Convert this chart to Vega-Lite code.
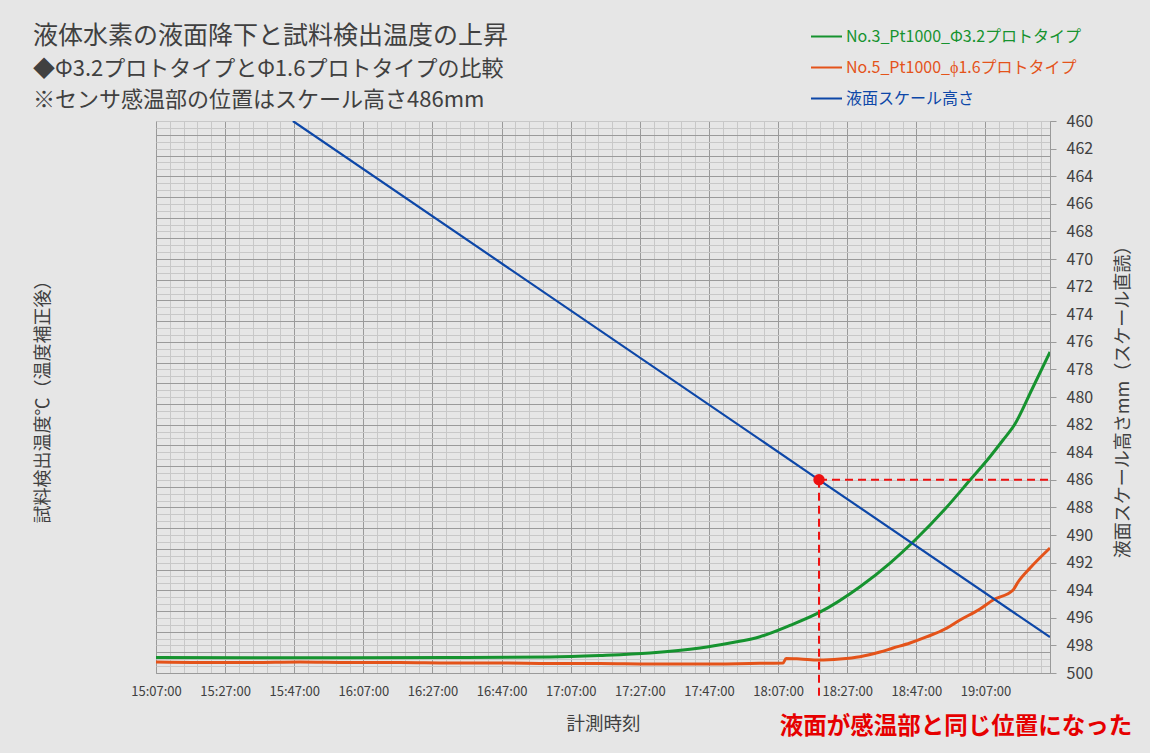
{
  "$schema": "https://vega.github.io/schema/vega-lite/v6.json",
  "width": 894,
  "height": 552,
  "autosize": {"type": "none"},
  "padding": {"left": 156, "top": 121, "right": 100, "bottom": 80},
  "background": "#e6e6e6",
  "config": {
    "font": "Noto Sans CJK JP",
    "view": {"stroke": "#a0a0a0", "fill": "#e6e6e6"},
    "axis": {
      "labelFont": "Noto Sans CJK JP",
      "titleFont": "Noto Sans CJK JP",
      "labelColor": "#404040",
      "titleColor": "#404040",
      "titleFontWeight": "normal"
    }
  },
  "title": {
    "text": "液体水素の液面降下と試料検出温度の上昇",
    "subtitle": ["◆Φ3.2プロトタイプとΦ1.6プロトタイプの比較", "※センサ感温部の位置はスケール高さ486mm"],
    "anchor": "start",
    "frame": "group",
    "dx": -123,
    "dy": 103,
    "offset": 12,
    "font": "Noto Sans CJK JP",
    "fontSize": 25,
    "fontWeight": "normal",
    "color": "#404040",
    "subtitleFont": "Noto Sans CJK JP",
    "subtitleFontSize": 22,
    "subtitleColor": "#404040",
    "subtitleLineHeight": 31,
    "subtitlePadding": 10
  },
  "encoding": {
    "x": {
      "field": "time",
      "type": "temporal",
      "scale": {"domain": [1577891220000, 1577906740000], "nice": false},
      "axis": {
        "values": [1577891220000, 1577891460000, 1577891700000, 1577891940000, 1577892180000, 1577892420000, 1577892660000, 1577892900000, 1577893140000, 1577893380000, 1577893620000, 1577893860000, 1577894100000, 1577894340000, 1577894580000, 1577894820000, 1577895060000, 1577895300000, 1577895540000, 1577895780000, 1577896020000, 1577896260000, 1577896500000, 1577896740000, 1577896980000, 1577897220000, 1577897460000, 1577897700000, 1577897940000, 1577898180000, 1577898420000, 1577898660000, 1577898900000, 1577899140000, 1577899380000, 1577899620000, 1577899860000, 1577900100000, 1577900340000, 1577900580000, 1577900820000, 1577901060000, 1577901300000, 1577901540000, 1577901780000, 1577902020000, 1577902260000, 1577902500000, 1577902740000, 1577902980000, 1577903220000, 1577903460000, 1577903700000, 1577903940000, 1577904180000, 1577904420000, 1577904660000, 1577904900000, 1577905140000, 1577905380000, 1577905620000, 1577905860000, 1577906100000, 1577906340000, 1577906580000],
        "labelExpr": "utcminutes(datum.value) % 20 === 7 ? utcFormat(datum.value, '%H:%M:%S') : ''",
        "labelOverlap": false,
        "labelFlush": false,
        "labelFontSize": 13,
        "labelPadding": 12,
        "ticks": false,
        "domain": false,
        "grid": true,
        "gridColor": {"condition": {"test": "utcminutes(datum.value) % 20 === 7", "value": "#9a9a9a"}, "value": "#c8c8c8"},
        "title": "計測時刻",
        "titleFontSize": 18.5,
        "titlePadding": 16
      }
    }
  },
  "layer": [
    {
      "data": {
        "values": [
          {"time": "2020-01-01T15:07:00Z", "series": "No.3_Pt1000_Φ3.2プロトタイプ", "temp": -252.75},
          {"time": "2020-01-01T15:34:12Z", "series": "No.3_Pt1000_Φ3.2プロトタイプ", "temp": -252.8},
          {"time": "2020-01-01T16:03:08Z", "series": "No.3_Pt1000_Φ3.2プロトタイプ", "temp": -252.8},
          {"time": "2020-01-01T16:32:04Z", "series": "No.3_Pt1000_Φ3.2プロトタイプ", "temp": -252.77},
          {"time": "2020-01-01T17:01:00Z", "series": "No.3_Pt1000_Φ3.2プロトタイプ", "temp": -252.68},
          {"time": "2020-01-01T17:15:28Z", "series": "No.3_Pt1000_Φ3.2プロトタイプ", "temp": -252.46},
          {"time": "2020-01-01T17:29:56Z", "series": "No.3_Pt1000_Φ3.2プロトタイプ", "temp": -252.1},
          {"time": "2020-01-01T17:44:24Z", "series": "No.3_Pt1000_Φ3.2プロトタイプ", "temp": -251.38},
          {"time": "2020-01-01T17:53:05Z", "series": "No.3_Pt1000_Φ3.2プロトタイプ", "temp": -250.65},
          {"time": "2020-01-01T18:01:46Z", "series": "No.3_Pt1000_Φ3.2プロトタイプ", "temp": -249.74},
          {"time": "2020-01-01T18:10:26Z", "series": "No.3_Pt1000_Φ3.2プロトタイプ", "temp": -248.1},
          {"time": "2020-01-01T18:18:48Z", "series": "No.3_Pt1000_Φ3.2プロトタイプ", "temp": -246.26},
          {"time": "2020-01-01T18:30:42Z", "series": "No.3_Pt1000_Φ3.2プロトタイプ", "temp": -242.49},
          {"time": "2020-01-01T18:39:23Z", "series": "No.3_Pt1000_Φ3.2プロトタイプ", "temp": -239.06},
          {"time": "2020-01-01T18:46:38Z", "series": "No.3_Pt1000_Φ3.2プロトタイプ", "temp": -235.72},
          {"time": "2020-01-01T18:55:18Z", "series": "No.3_Pt1000_Φ3.2プロトタイプ", "temp": -231.23},
          {"time": "2020-01-01T19:02:32Z", "series": "No.3_Pt1000_Φ3.2プロトタイプ", "temp": -227.03},
          {"time": "2020-01-01T19:08:18Z", "series": "No.3_Pt1000_Φ3.2プロトタイプ", "temp": -223.65},
          {"time": "2020-01-01T19:12:05Z", "series": "No.3_Pt1000_Φ3.2プロトタイプ", "temp": -221.23},
          {"time": "2020-01-01T19:15:32Z", "series": "No.3_Pt1000_Φ3.2プロトタイプ", "temp": -218.91},
          {"time": "2020-01-01T19:20:30Z", "series": "No.3_Pt1000_Φ3.2プロトタイプ", "temp": -213.84},
          {"time": "2020-01-01T19:25:40Z", "series": "No.3_Pt1000_Φ3.2プロトタイプ", "temp": -208.48},
          {"time": "2020-01-01T15:07:00Z", "series": "No.5_Pt1000_ϕ1.6プロトタイプ", "temp": -253.41},
          {"time": "2020-01-01T15:19:44Z", "series": "No.5_Pt1000_ϕ1.6プロトタイプ", "temp": -253.48},
          {"time": "2020-01-01T15:34:12Z", "series": "No.5_Pt1000_ϕ1.6プロトタイプ", "temp": -253.48},
          {"time": "2020-01-01T15:48:40Z", "series": "No.5_Pt1000_ϕ1.6プロトタイプ", "temp": -253.41},
          {"time": "2020-01-01T16:03:08Z", "series": "No.5_Pt1000_ϕ1.6プロトタイプ", "temp": -253.48},
          {"time": "2020-01-01T16:17:36Z", "series": "No.5_Pt1000_ϕ1.6プロトタイプ", "temp": -253.48},
          {"time": "2020-01-01T16:32:04Z", "series": "No.5_Pt1000_ϕ1.6プロトタイプ", "temp": -253.55},
          {"time": "2020-01-01T16:46:32Z", "series": "No.5_Pt1000_ϕ1.6プロトタイプ", "temp": -253.55},
          {"time": "2020-01-01T17:01:00Z", "series": "No.5_Pt1000_ϕ1.6プロトタイプ", "temp": -253.62},
          {"time": "2020-01-01T17:15:28Z", "series": "No.5_Pt1000_ϕ1.6プロトタイプ", "temp": -253.62},
          {"time": "2020-01-01T17:29:56Z", "series": "No.5_Pt1000_ϕ1.6プロトタイプ", "temp": -253.7},
          {"time": "2020-01-01T17:44:24Z", "series": "No.5_Pt1000_ϕ1.6プロトタイプ", "temp": -253.7},
          {"time": "2020-01-01T17:58:53Z", "series": "No.5_Pt1000_ϕ1.6プロトタイプ", "temp": -253.62},
          {"time": "2020-01-01T18:08:26Z", "series": "No.5_Pt1000_ϕ1.6プロトタイプ", "temp": -253.55},
          {"time": "2020-01-01T18:09:18Z", "series": "No.5_Pt1000_ϕ1.6プロトタイプ", "temp": -252.9},
          {"time": "2020-01-01T18:13:20Z", "series": "No.5_Pt1000_ϕ1.6プロトタイプ", "temp": -252.97},
          {"time": "2020-01-01T18:18:48Z", "series": "No.5_Pt1000_ϕ1.6プロトタイプ", "temp": -253.12},
          {"time": "2020-01-01T18:24:55Z", "series": "No.5_Pt1000_ϕ1.6プロトタイプ", "temp": -252.97},
          {"time": "2020-01-01T18:30:42Z", "series": "No.5_Pt1000_ϕ1.6プロトタイプ", "temp": -252.64},
          {"time": "2020-01-01T18:36:29Z", "series": "No.5_Pt1000_ϕ1.6プロトタイプ", "temp": -251.96},
          {"time": "2020-01-01T18:40:15Z", "series": "No.5_Pt1000_ϕ1.6プロトタイプ", "temp": -251.38},
          {"time": "2020-01-01T18:45:10Z", "series": "No.5_Pt1000_ϕ1.6プロトタイプ", "temp": -250.65},
          {"time": "2020-01-01T18:50:05Z", "series": "No.5_Pt1000_ϕ1.6プロトタイプ", "temp": -249.74},
          {"time": "2020-01-01T18:55:18Z", "series": "No.5_Pt1000_ϕ1.6プロトタイプ", "temp": -248.62},
          {"time": "2020-01-01T18:59:38Z", "series": "No.5_Pt1000_ϕ1.6プロトタイプ", "temp": -247.32},
          {"time": "2020-01-01T19:05:25Z", "series": "No.5_Pt1000_ϕ1.6プロトタイプ", "temp": -245.72},
          {"time": "2020-01-01T19:09:11Z", "series": "No.5_Pt1000_ϕ1.6プロトタイプ", "temp": -244.42},
          {"time": "2020-01-01T19:15:00Z", "series": "No.5_Pt1000_ϕ1.6プロトタイプ", "temp": -242.97},
          {"time": "2020-01-01T19:16:26Z", "series": "No.5_Pt1000_ϕ1.6プロトタイプ", "temp": -241.81},
          {"time": "2020-01-01T19:19:54Z", "series": "No.5_Pt1000_ϕ1.6プロトタイプ", "temp": -239.78},
          {"time": "2020-01-01T19:25:40Z", "series": "No.5_Pt1000_ϕ1.6プロトタイプ", "temp": -236.88}
        ]
      },
      "mark": {"type": "line", "interpolate": "monotone", "strokeWidth": 3, "clip": true},
      "encoding": {
        "y": {
          "field": "temp",
          "type": "quantitative",
          "scale": {"domain": [-255, -175], "nice": false, "zero": false},
          "axis": {
            "orient": "left",
            "values": [-255, -254, -253, -252, -251, -250, -249, -248, -247, -246, -245, -244, -243, -242, -241, -240, -239, -238, -237, -236, -235, -234, -233, -232, -231, -230, -229, -228, -227, -226, -225, -224, -223, -222, -221, -220, -219, -218, -217, -216, -215, -214, -213, -212, -211, -210, -209, -208, -207, -206, -205, -204, -203, -202, -201, -200, -199, -198, -197, -196, -195, -194, -193, -192, -191, -190, -189, -188, -187, -186, -185, -184, -183, -182, -181, -180, -179, -178, -177, -176, -175],
            "labels": false,
            "ticks": false,
            "domain": false,
            "grid": true,
            "gridColor": {"condition": {"test": "(datum.value + 255) % 3 === 0", "value": "#9a9a9a"}, "value": "#c8c8c8"},
            "title": "試料検出温度℃（温度補正後）",
            "titleFontSize": 18,
            "titlePadding": 104
          }
        },
        "color": {
          "field": "series",
          "type": "nominal",
          "scale": {
            "domain": ["No.3_Pt1000_Φ3.2プロトタイプ", "No.5_Pt1000_ϕ1.6プロトタイプ", "液面スケール高さ"],
            "range": ["#16932f", "#e4531a", "#0d47a8"]
          },
          "legend": {
            "title": null,
            "orient": "none",
            "legendX": 654,
            "legendY": -101,
            "padding": 0,
            "symbolType": "stroke",
            "symbolSize": 960,
            "symbolStrokeWidth": 2,
            "labelFont": "Noto Sans CJK JP",
            "labelFontSize": 16,
            "labelOffset": 3,
            "labelLimit": 400,
            "rowPadding": 6,
            "encode": {"labels": {"update": {"fill": {"signal": "scale('color', datum.value)"}}}}
          }
        }
      }
    },
    {
      "encoding": {
        "y": {
          "field": "level",
          "type": "quantitative",
          "scale": {"domain": [460, 500], "reverse": true, "nice": false, "zero": false},
          "axis": {
            "orient": "right",
            "values": [460, 462, 464, 466, 468, 470, 472, 474, 476, 478, 480, 482, 484, 486, 488, 490, 492, 494, 496, 498, 500],
            "grid": false,
            "ticks": true,
            "tickSize": 6,
            "tickColor": "#9a9a9a",
            "domain": true,
            "domainColor": "#9a9a9a",
            "labelFontSize": 16,
            "labelPadding": 10,
            "title": "液面スケール高さmm（スケール直読）",
            "titleAngle": 270,
            "titleFontSize": 18,
            "titlePadding": 40
          }
        }
      },
      "layer": [
        {
          "data": {
            "values": [
              {"time": "2020-01-01T15:46:36Z", "series": "液面スケール高さ", "level": 460},
              {"time": "2020-01-01T18:18:50Z", "series": "液面スケール高さ", "level": 486},
              {"time": "2020-01-01T19:25:40Z", "series": "液面スケール高さ", "level": 497.4}
            ]
          },
          "mark": {"type": "line", "strokeWidth": 2.2, "clip": true},
          "encoding": {
            "color": {
              "field": "series",
              "type": "nominal",
              "scale": {
                "domain": ["No.3_Pt1000_Φ3.2プロトタイプ", "No.5_Pt1000_ϕ1.6プロトタイプ", "液面スケール高さ"],
                "range": ["#16932f", "#e4531a", "#0d47a8"]
              }
            }
          }
        },
        {
          "data": {"values": [{"time": "2020-01-01T18:18:50Z", "time2": "2020-01-01T19:25:40Z", "level": 486}]},
          "mark": {"type": "rule", "color": "#ee1111", "strokeWidth": 2, "strokeDash": [8, 5], "clip": false},
          "encoding": {"x2": {"field": "time2"}}
        },
        {
          "data": {"values": [{"time": "2020-01-01T18:18:50Z", "level": 486, "level2": 502}]},
          "mark": {"type": "rule", "color": "#ee1111", "strokeWidth": 2, "strokeDash": [8, 5], "clip": false},
          "encoding": {"y2": {"field": "level2"}}
        },
        {
          "data": {"values": [{"time": "2020-01-01T18:18:50Z", "level": 486}]},
          "mark": {"type": "point", "filled": true, "opacity": 1, "size": 130, "color": "#ee1111"}
        },
        {
          "data": {"values": [{"time": "2020-01-01T18:07:30Z", "level": 503.9, "note": "液面が感温部と同じ位置になった"}]},
          "mark": {"type": "text", "align": "left", "baseline": "middle", "fontSize": 23.5, "fontWeight": "bold", "color": "#e60000", "font": "Noto Sans CJK JP", "clip": false},
          "encoding": {"text": {"field": "note"}}
        }
      ]
    }
  ],
  "resolve": {"scale": {"y": "independent"}}
}
